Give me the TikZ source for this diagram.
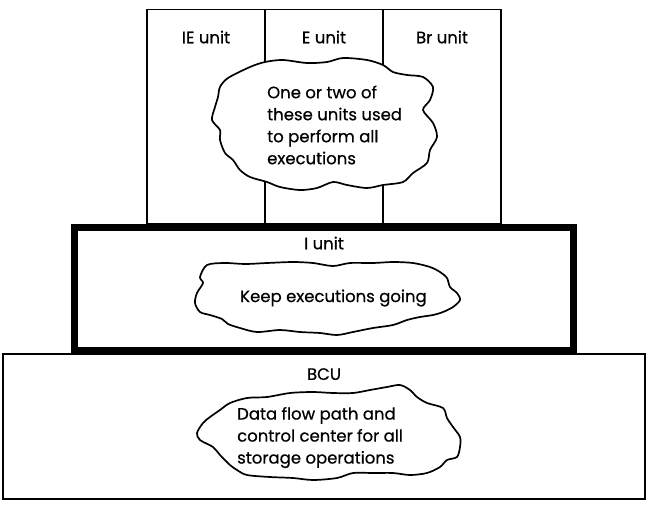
\documentclass[tikz,border=0pt]{standalone}
\usepackage{fontspec}
\setmainfont[FakeBold=0.6]{Poppins}
\usepackage{tikz}
\usetikzlibrary{positioning}

\begin{document}
\begin{tikzpicture}[x=1pt, y=-1pt,
      unitbox/.style={rectangle, draw, line width=1.5pt, outer sep=0pt, inner sep=0pt},
      colbox/.style={unitbox, minimum width=118pt, minimum height=214pt},
      ibox/.style={rectangle, draw, line width=7pt, inner sep=0pt},
      lbl/.style={inner sep=0pt, font=\fontsize{16.5}{22}\selectfont},
      note/.style={inner sep=0pt, align=left, anchor=west, font=\fontsize{16.5}{22}\selectfont},
      blob/.style={draw, fill=white, line width=1.7pt, line join=round}
    ]
      \useasboundingbox (0,0) rectangle (648,507);
      % boxes
      \node[unitbox, minimum width=642pt, minimum height=145pt] (bcu) at (324,426.5) {};
      \node[ibox, minimum width=499pt, minimum height=123.5pt, above=0pt of bcu] (iunit) {};
      \node[colbox, above=0pt of iunit] (ecol) {};
      \node[colbox, left=0pt of ecol] (iecol) {};
      \node[colbox, right=0pt of ecol] (brcol) {};
      \node[lbl, below=21pt of iecol.north] (ielbl) {IE unit};
      \node[lbl, below=21pt of ecol.north] (elbl) {E unit};
      \node[lbl, below=21pt of brcol.north] (brlbl) {Br unit};
      \node[lbl, below=13pt of iunit.north] (ilbl) {I unit};
      \node[lbl, below=14pt of bcu.north] (bculbl) {BCU};
      % clouds
      \draw[blob] plot[smooth cycle] coordinates {(228,78) (250,67) (265,62) (283,60)
        (307,63) (327,62) (343,58) (367,60) (383,65) (393,72) (407,75) (423,77)
        (433,87) (430,100) (423,110) (433,123) (437,137) (430,150) (427,163)
        (413,173) (403,182) (383,185) (367,188) (347,185) (333,182) (317,188)
        (300,190) (280,187) (267,182) (250,177) (240,170) (233,160) (225,153)
        (220,140) (220,130) (212,120) (215,107) (218,97) (220,87)};
      \draw[blob] plot[smooth cycle] coordinates {(207,265) (225,263) (245,264)
        (267,263) (293,262) (313,263) (333,266) (350,263) (373,263) (393,262)
        (413,263) (430,267) (440,272) (447,278) (450,287) (457,293) (460,300)
        (453,307) (443,312) (433,315) (420,317) (407,320) (393,325) (373,328)
        (353,332) (337,335) (320,333) (300,332) (280,330) (257,332) (240,328)
        (228,324) (222,319) (210,315) (200,312) (195,303) (197,293) (203,283)
        (200,277)};
      \draw[blob] plot[smooth cycle] coordinates {(230,403) (247,398) (267,397)
        (290,393) (313,392) (333,393) (353,393) (370,390) (387,387) (400,385)
        (410,390) (417,397) (427,403) (443,408) (447,418) (453,427) (460,437)
        (460,447) (457,457) (447,460) (440,467) (427,473) (410,475) (393,473)
        (373,473) (353,473) (337,478) (313,480) (293,478) (270,477) (247,475)
        (237,470) (230,465) (220,455) (213,447) (200,440) (197,433) (203,423)
        (210,417) (220,410)};
      \node[note] (execnote) at (267,125) {One or two of\\these units used\\to perform all\\executions};
      \node[note] (keepnote) at (240,298) {Keep executions going};
      \node[note] (flownote) at (237,437.5) {Data flow path and\\control center for all\\storage operations};
    \end{tikzpicture}
\end{document}
